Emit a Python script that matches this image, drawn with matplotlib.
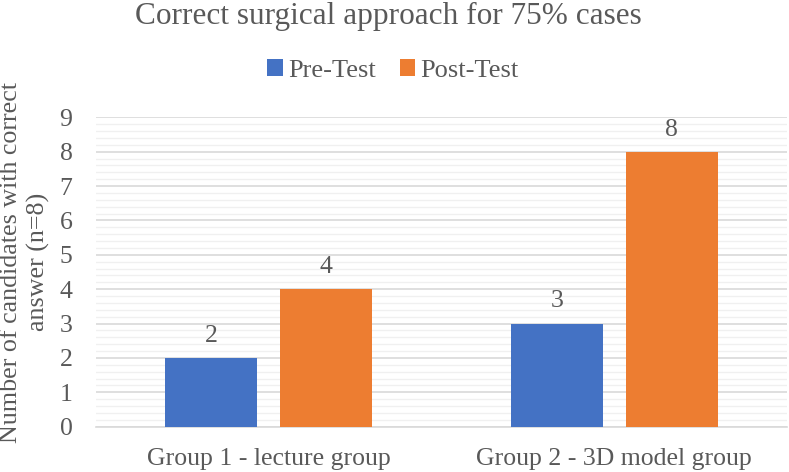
import matplotlib
matplotlib.use("Agg")
import matplotlib.pyplot as plt
import numpy as np
from matplotlib.ticker import MultipleLocator
from matplotlib.patches import Patch

categories = ["Group 1 - lecture group", "Group 2 - 3D model group"]
series_names = ["Pre-Test", "Post-Test"]
pre_test = [2, 3]
post_test = [4, 8]
y_ticks = [0, 1, 2, 3, 4, 5, 6, 7, 8, 9]

colors = ["#4472C4", "#ED7D31"]
text_color = "#595959"

plt.rcParams['font.family'] = ['Liberation Serif', 'DejaVu Serif']

fig = plt.figure(figsize=(7.89, 4.72), dpi=100)
ax = fig.add_axes([0.1217, 0.096, 0.8758, 0.6555])

x = np.arange(len(categories))
w = 0.266
off = 0.1665
b1 = ax.bar(x - off, pre_test, w, color=colors[0], zorder=3)
b2 = ax.bar(x + off, post_test, w, color=colors[1], zorder=3)

for bars in (b1, b2):
    for r in bars:
        ax.annotate(f"{int(r.get_height())}", (r.get_x() + r.get_width() / 2, r.get_height()),
                    xytext=(0, 8), textcoords="offset points", ha="center", va="bottom",
                    fontsize=18.5, color=text_color)

ax.set_xlim(-0.5, 1.5)
ax.set_ylim(0, 9)
ax.set_yticks(y_ticks)
ax.yaxis.set_minor_locator(MultipleLocator(0.2))
ax.grid(axis="y", which="major", color="#D9D9D9", linewidth=1.2, zorder=0)
ax.grid(axis="y", which="minor", color="#F0F0F0", linewidth=1.0, zorder=0)
ax.set_axisbelow(True)
for s in ["top", "right", "left"]:
    ax.spines[s].set_visible(False)
ax.spines["bottom"].set_color("#D9D9D9")
ax.spines["bottom"].set_linewidth(1.2)
ax.tick_params(axis="both", which="both", length=0, labelsize=18.5, colors=text_color)
ax.tick_params(axis="y", pad=17)
ax.tick_params(axis="x", pad=15)
ax.set_xticks(x)
ax.set_xticklabels(categories)

ax.set_ylabel("Number of candidates with correct\nanswer (n=8)", fontsize=18.7, color=text_color,
              linespacing=1.25)
ax.yaxis.label.set_va("center")
ax.yaxis.set_label_coords(-0.1027, 0.532)

fig.text(0.492, 0.965, "Correct surgical approach for 75% cases", ha="center", va="center",
         fontsize=22.5, color=text_color)

handles = [Patch(facecolor=c) for c in colors]
fig.legend(handles, series_names, loc="center", bbox_to_anchor=(0.498, 0.851), ncol=2,
           frameon=False, fontsize=19, labelcolor=text_color, handlelength=0.6, handleheight=0.6,
           handletextpad=0.2, columnspacing=0.9)

fig.savefig("out.png", dpi=100)
